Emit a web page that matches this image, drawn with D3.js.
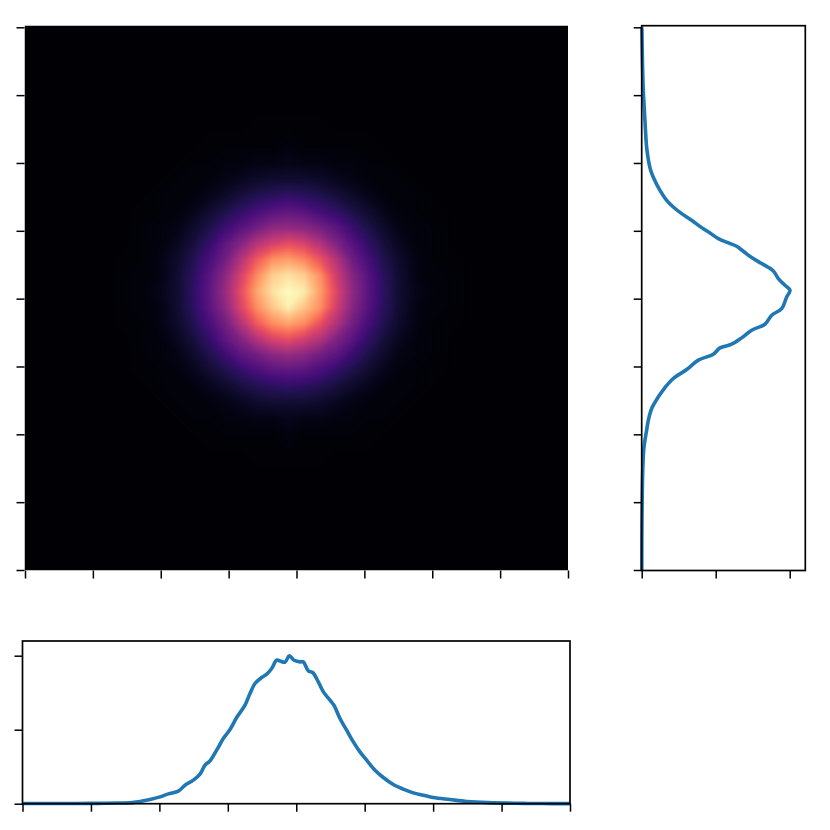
<!DOCTYPE html>
<html><head><meta charset="utf-8">
<script src="https://cdn.jsdelivr.net/npm/d3@7"></script>
<style>html,body{margin:0;padding:0;background:#fff}svg{display:block}</style>
</head><body><svg id="c" width="830" height="830"></svg>
<script>
const tickValues8 = [0,1,2,3,4,5,6,7,8];
const tickValues2 = [0,1,2];
const bottomX = [0,0.4,0.8,1.1,1.4,1.571,1.717,1.863,2.009,2.131,2.277,2.374,2.496,2.594,2.667,2.74,2.837,2.934,3.032,3.129,3.251,3.324,3.397,3.495,3.568,3.641,3.714,3.762,3.835,3.899,3.967,4.055,4.103,4.176,4.24,4.322,4.396,4.493,4.551,4.639,4.737,4.834,4.931,5.029,5.151,5.272,5.418,5.564,5.711,5.857,6.003,6.246,6.5,6.8,7.2,7.6,8];
const bottomY = [0.002,0.002,0.003,0.005,0.009,0.011,0.029,0.056,0.092,0.133,0.169,0.25,0.318,0.399,0.52,0.579,0.723,0.881,1.002,1.164,1.331,1.489,1.624,1.705,1.75,1.827,1.939,1.93,1.912,1.998,1.939,1.917,1.917,1.795,1.773,1.646,1.511,1.399,1.331,1.151,0.993,0.836,0.7,0.588,0.453,0.354,0.259,0.196,0.146,0.115,0.083,0.056,0.03,0.015,0.006,0.002,0.001];
const rightY = [0,0.5,1,1.5,1.8,2.062,2.209,2.381,2.553,2.69,2.823,2.955,3.093,3.181,3.274,3.328,3.422,3.535,3.623,3.756,3.854,4.026,4.124,4.197,4.296,4.408,4.517,4.605,4.698,4.772,4.821,4.885,4.968,5.047,5.155,5.253,5.351,5.449,5.596,5.768,5.891,6.2,6.5,6.8,7.1,7.5,8];
const rightX = [0.001,0.002,0.006,0.015,0.03,0.067,0.09,0.135,0.225,0.315,0.427,0.608,0.765,0.968,1.058,1.216,1.351,1.486,1.666,1.757,1.892,1.959,2.004,1.936,1.846,1.779,1.621,1.486,1.373,1.283,1.171,1.036,0.923,0.81,0.675,0.54,0.427,0.337,0.247,0.166,0.121,0.07,0.05,0.035,0.02,0.01,0.002];
const heat = [
[0,0,0,0,0,0,0,0,0,0,0,0,0,0,0,0,0,0,0,0,0,0,0,0,0,0,0,0,0,0,0,0,0,0],
[0,0,0,0,0,0,0,0,0,0,0,0,0,0,0,0,0,0,0,0,0,0,0,0,0,0,0,0,0,0,0,0,0,0],
[0,0,0,0,0,0,0,0,0,0,0,0,0,0,0,0,0,0,0,0,0,0,0,0,0,0,0,0,0,0,0,0,0,0],
[0,0,0,0,0,0,0,0,0,0,0,0,0,0,0,0,0,0,0,0,0,0,0,0,0,0,0,0,0,0,0,0,0,0],
[0,0,0,0,0,0,0,0,0,0,0,0,0,0,0,0,0,0,0,0,0,0,0,0,0,0,0,0,0,0,0,0,0,0],
[0,0,0,0,0,0,0,0,0,0,0,0,0,0,1,1,1,1,1,0,0,0,0,0,0,0,0,0,0,0,0,0,0,0],
[0,0,0,0,0,0,0,0,0,0,0,1,1,1,1,1,2,1,1,1,1,1,0,0,0,0,0,0,0,0,0,0,0,0],
[0,0,0,0,0,0,0,0,0,0,1,1,2,2,2,2,3,2,2,2,2,1,1,0,0,0,0,0,0,0,0,0,0,0],
[0,0,0,0,0,0,0,0,0,1,2,2,3,3,4,4,5,4,4,3,3,2,2,1,0,0,0,0,0,0,0,0,0,0],
[0,0,0,0,0,0,0,0,1,2,2,3,4,6,8,9,9,9,8,6,4,3,2,2,1,0,0,0,0,0,0,0,0,0],
[0,0,0,0,0,0,0,1,2,2,3,5,8,11,14,16,18,16,14,11,8,5,3,2,2,1,0,0,0,0,0,0,0,0],
[0,0,0,0,0,0,1,1,2,3,5,9,13,18,23,27,29,27,22,18,13,9,5,3,2,1,1,0,0,0,0,0,0,0],
[0,0,0,0,0,0,1,2,3,4,8,13,20,27,33,40,41,39,34,28,20,13,8,4,3,2,1,0,0,0,0,0,0,0],
[0,0,0,0,0,0,1,2,3,6,11,18,28,38,50,57,62,58,49,37,27,18,11,6,3,2,1,0,0,0,0,0,0,0],
[0,0,0,0,0,1,1,2,4,8,14,23,33,49,65,77,80,75,64,50,33,23,14,8,4,2,1,1,0,0,0,0,0,0],
[0,0,0,0,0,1,2,2,4,9,16,27,39,57,75,90,94,90,77,56,39,27,16,9,4,2,2,1,0,0,0,0,0,0],
[0,0,0,0,0,1,2,3,5,9,17,28,42,61,81,94,100,96,80,60,41,28,17,9,5,3,2,1,0,0,0,0,0,0],
[0,0,0,0,0,1,2,2,4,9,16,27,39,58,76,88,97,88,77,57,39,27,16,9,4,2,2,1,0,0,0,0,0,0],
[0,0,0,0,0,1,1,2,4,8,14,23,33,49,65,76,81,76,63,49,34,23,14,8,4,2,1,1,0,0,0,0,0,0],
[0,0,0,0,0,0,1,2,3,6,11,18,28,37,49,58,62,56,49,37,28,18,11,6,3,2,1,0,0,0,0,0,0,0],
[0,0,0,0,0,0,1,2,3,4,8,13,20,28,33,39,42,39,33,28,20,13,8,4,3,2,1,0,0,0,0,0,0,0],
[0,0,0,0,0,0,1,1,2,3,5,9,13,18,23,27,28,27,23,18,13,9,5,3,2,1,1,0,0,0,0,0,0,0],
[0,0,0,0,0,0,0,1,2,2,3,5,8,11,14,16,17,16,14,11,8,5,3,2,2,1,0,0,0,0,0,0,0,0],
[0,0,0,0,0,0,0,0,1,2,2,3,4,6,8,9,9,9,8,6,4,3,2,2,1,0,0,0,0,0,0,0,0,0],
[0,0,0,0,0,0,0,0,0,1,2,2,3,3,4,4,5,4,4,3,3,2,2,1,0,0,0,0,0,0,0,0,0,0],
[0,0,0,0,0,0,0,0,0,0,1,1,2,2,2,2,3,2,2,2,2,1,1,0,0,0,0,0,0,0,0,0,0,0],
[0,0,0,0,0,0,0,0,0,0,0,1,1,1,1,1,2,1,1,1,1,1,0,0,0,0,0,0,0,0,0,0,0,0],
[0,0,0,0,0,0,0,0,0,0,0,0,0,0,1,1,1,1,1,0,0,0,0,0,0,0,0,0,0,0,0,0,0,0],
[0,0,0,0,0,0,0,0,0,0,0,0,0,0,0,0,0,0,0,0,0,0,0,0,0,0,0,0,0,0,0,0,0,0],
[0,0,0,0,0,0,0,0,0,0,0,0,0,0,0,0,0,0,0,0,0,0,0,0,0,0,0,0,0,0,0,0,0,0],
[0,0,0,0,0,0,0,0,0,0,0,0,0,0,0,0,0,0,0,0,0,0,0,0,0,0,0,0,0,0,0,0,0,0],
[0,0,0,0,0,0,0,0,0,0,0,0,0,0,0,0,0,0,0,0,0,0,0,0,0,0,0,0,0,0,0,0,0,0],
[0,0,0,0,0,0,0,0,0,0,0,0,0,0,0,0,0,0,0,0,0,0,0,0,0,0,0,0,0,0,0,0,0,0],
[0,0,0,0,0,0,0,0,0,0,0,0,0,0,0,0,0,0,0,0,0,0,0,0,0,0,0,0,0,0,0,0,0,0]
];

const svg = d3.select("#c");
const color = d3.scaleSequential(d3.interpolateMagma).domain([0,100]);
const BLUE = "#1f77b4";

const mainX = d3.scaleLinear().domain([0,8]).range([25,568]);
const mainY = d3.scaleLinear().domain([0,8]).range([570,27.3]);
const imgL=24.5, imgT=25.5, imgW=543.5, imgH=545;
const defs = svg.append("defs");
defs.append("clipPath").attr("id","imgClip").append("rect").attr("x",imgL).attr("y",imgT).attr("width",imgW).attr("height",imgH);
const f = defs.append("filter").attr("id","soft").attr("color-interpolation-filters","sRGB")
  .attr("x",0).attr("y",0).attr("width",830).attr("height",830).attr("filterUnits","userSpaceOnUse");
f.append("feGaussianBlur").attr("stdDeviation",0.45);

const n = heat[0].length, m = heat.length;
const flat = heat.flat();
const contours = d3.contours().size([n,m]).thresholds(d3.range(0.5,100.5,0.5))(flat);
const gImg = svg.append("g").attr("clip-path","url(#imgClip)");
gImg.append("rect").attr("x",imgL).attr("y",imgT).attr("width",imgW).attr("height",imgH).attr("fill",color(0.6));
gImg.append("g")
  .attr("transform",`translate(${imgL},${imgT+1.5}) scale(${imgW/n},${imgH/m})`)
  .selectAll("path").data(contours.filter(c=>c.value>0.6)).join("path")
  .attr("d",d3.geoPath()).attr("fill",d=>color(d.value)).attr("stroke","none");

const ink = svg.append("g").attr("filter","url(#soft)");
function axisStyle(g){
  g.selectAll(".tick line").attr("stroke","#000").attr("stroke-width",1.5);
  g.selectAll(".domain").remove();
}
const noFmt = ()=>"";
ink.append("g").attr("transform","translate(0,570.5)").call(d3.axisBottom(mainX).tickValues(tickValues8).tickSize(8).tickFormat(noFmt)).call(axisStyle);
ink.append("g").attr("transform","translate(24.5,0)").call(d3.axisLeft(mainY).tickValues(tickValues8).tickSize(8).tickFormat(noFmt)).call(axisStyle);

const rL=641.7,rR=805.3,rT=25.7,rB=570.5;
const rightXS = d3.scaleLinear().domain([0,2]).range([rL,rL+148]);
ink.append("path").attr("fill","none").attr("stroke",BLUE).attr("stroke-width",3.6).attr("stroke-linejoin","round")
  .attr("d",d3.line().curve(d3.curveCatmullRom).x((d,i)=>rightXS(rightX[i])).y(d=>mainY(d))(rightY));
ink.append("rect").attr("x",rL).attr("y",rT).attr("width",rR-rL).attr("height",rB-rT).attr("fill","none").attr("stroke","#000").attr("stroke-width",1.7);
ink.append("g").attr("transform",`translate(0,${rB})`).call(d3.axisBottom(rightXS).tickValues(tickValues2).tickSize(8).tickFormat(noFmt)).call(axisStyle);
ink.append("g").attr("transform",`translate(${rL},0)`).call(d3.axisLeft(mainY).tickValues(tickValues8).tickSize(8).tickFormat(noFmt)).call(axisStyle);

const bL=22.5,bR=570,bT=641,bB=803.7;
const botX = d3.scaleLinear().domain([0,8]).range([bL,bR]);
const botY = d3.scaleLinear().domain([0,2]).range([bB,bB-148]);
ink.append("path").attr("fill","none").attr("stroke",BLUE).attr("stroke-width",3.6).attr("stroke-linejoin","round")
  .attr("d",d3.line().curve(d3.curveCatmullRom).x((d,i)=>botX(bottomX[i])).y(d=>botY(d))(bottomY));
ink.append("rect").attr("x",bL).attr("y",bT).attr("width",bR-bL).attr("height",bB-bT).attr("fill","none").attr("stroke","#000").attr("stroke-width",1.7);
ink.append("g").attr("transform",`translate(0,${bB})`).call(d3.axisBottom(botX).tickValues(tickValues8).tickSize(8).tickFormat(noFmt)).call(axisStyle);
ink.append("g").attr("transform",`translate(${bL},0)`).call(d3.axisLeft(botY).tickValues(tickValues2).tickSize(8).tickFormat(noFmt)).call(axisStyle);
</script></body></html>
